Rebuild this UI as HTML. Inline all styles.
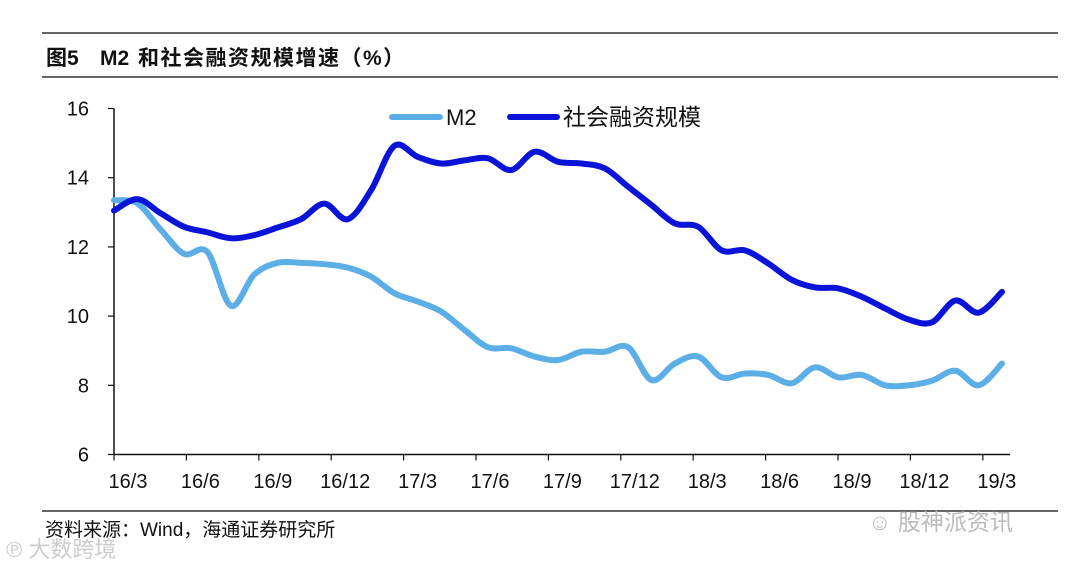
<!DOCTYPE html>
<html><head><meta charset="utf-8"><style>
body{margin:0;background:#fff;}
svg{display:block;font-family:"Liberation Sans","Noto Sans CJK SC",sans-serif;}
</style></head><body>
<svg id="c" width="1080" height="568" viewBox="0 0 1080 568">
<line x1="42" y1="33" x2="1058" y2="33" stroke="#333" stroke-width="1.5"/>
<text x="46" y="65" font-size="21" font-weight="bold" fill="#111"><tspan>图5</tspan><tspan x="100">M2</tspan><tspan x="138" letter-spacing="1.5">和社会融资规模增速（%）</tspan></text>
<line x1="42" y1="77" x2="1058" y2="77" stroke="#333" stroke-width="1.5"/>
<g id="axes"></g>
<g id="series"></g>
<g>
<line x1="392" y1="117" x2="440" y2="117" stroke="#5BAEE6" stroke-width="6" stroke-linecap="round"/>
<text x="446" y="125" font-size="22" fill="#111">M2</text>
<line x1="510" y1="117" x2="557" y2="117" stroke="#0A14D8" stroke-width="6" stroke-linecap="round"/>
<text x="563" y="125" font-size="23" fill="#111">社会融资规模</text>
</g>
<line x1="42" y1="511" x2="1058" y2="511" stroke="#333" stroke-width="1.5"/>
<text x="45" y="536" font-size="19" fill="#111">资料来源：Wind，海通证券研究所</text>
<text x="868" y="530" font-size="23" fill="#bbb">☺ 股神派资讯</text>
<text x="6" y="557" font-size="22" fill="#ccc">℗ 大数跨境</text>
</svg>
<script>
const tickLabels=["16/3","16/6","16/9","16/12","17/3","17/6","17/9","17/12","18/3","18/6","18/9","18/12","19/3"];
const yTicks=[6,8,10,12,14,16];
const m2=[13.35,13.26,12.5,11.8,11.85,10.3,11.2,11.54,11.54,11.5,11.4,11.14,10.66,10.42,10.13,9.6,9.1,9.07,8.83,8.73,8.97,8.97,9.1,8.15,8.63,8.83,8.23,8.34,8.3,8.06,8.52,8.23,8.3,8.0,8.0,8.13,8.42,8.0,8.63];
const tsf=[13.05,13.38,12.97,12.58,12.42,12.25,12.34,12.56,12.8,13.25,12.8,13.64,14.92,14.6,14.41,14.5,14.56,14.22,14.75,14.46,14.41,14.27,13.74,13.21,12.68,12.58,11.9,11.9,11.52,11.05,10.83,10.8,10.56,10.22,9.9,9.82,10.45,10.1,10.7];
const NS="http://www.w3.org/2000/svg";
const x0=114,x1=1002,yTop=108.5,yBot=454.5;
function xs(i,n){return x0+(x1-x0)*i/(n-1);}
function ys(v){return yBot-(v-6)/(16-6)*(yBot-yTop);}
function mk(t,a,p){const e=document.createElementNS(NS,t);for(const k in a)e.setAttribute(k,a[k]);p.appendChild(e);return e;}
const ax=document.getElementById('axes');
let e=mk('line',{x1:x0,y1:yTop,x2:x0,y2:yBot,stroke:'#111','stroke-width':1.5},ax);


e=mk('line',{x1:x0,y1:yBot,x2:1010,y2:yBot,stroke:'#111','stroke-width':1.5},ax);


yTicks.forEach(v=>{
 const y=ys(v);
 let t=mk('line',{x1:x0-6,y1:y,x2:x0,y2:y,stroke:'#111','stroke-width':1.2},ax);
 
 
 let l=mk('text',{x:89,y:y+7,'font-size':20,'text-anchor':'end',fill:'#111'},ax);
 l.textContent=v;
 
 
});
const tx0=114,tstep=72.4;
tickLabels.forEach((s,k)=>{
 const x=tx0+k*tstep;
 let t=mk('line',{x1:x,y1:yBot,x2:x,y2:yBot+6,stroke:'#111','stroke-width':1.2},ax);
 
 
 let l=mk('text',{x:x+14,y:488,'font-size':20,'text-anchor':'middle',fill:'#111'},ax);
 l.textContent=s;
 
 
});
function path(arr){
 const p=arr.map((v,i)=>[xs(i,arr.length),ys(v)]);
 let d='M'+p[0][0]+','+p[0][1];
 for(let i=0;i<p.length-1;i++){
  const a=p[i-1]||p[i],b=p[i],c=p[i+1],q=p[i+2]||c;
  const c1=[b[0]+(c[0]-a[0])/6,b[1]+(c[1]-a[1])/6],c2=[c[0]-(q[0]-b[0])/6,c[1]-(q[1]-b[1])/6];
  d+=` C${c1[0]},${c1[1]} ${c2[0]},${c2[1]} ${c[0]},${c[1]}`;
 }
 return d;
}
const sg=document.getElementById('series');
let s1=mk('path',{d:path(m2),fill:'none',stroke:'#5BAEE6','stroke-width':6,'stroke-linejoin':'round','stroke-linecap':'round'},sg);


let s2=mk('path',{d:path(tsf),fill:'none',stroke:'#0A14D8','stroke-width':6,'stroke-linejoin':'round','stroke-linecap':'round'},sg);


</script>
</body></html>
